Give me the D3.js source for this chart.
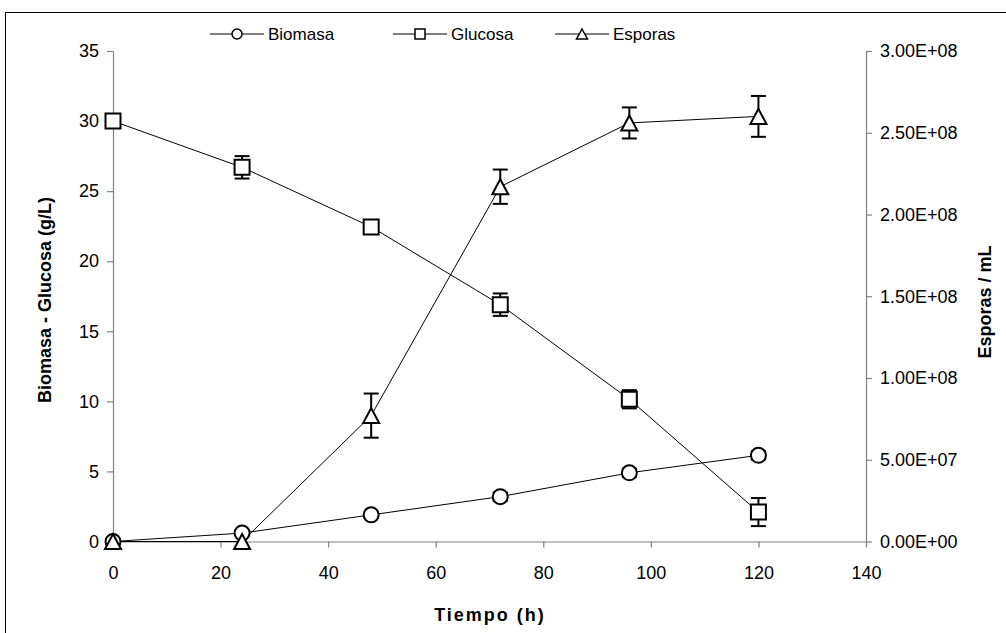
<!DOCTYPE html>
<html>
<head>
<meta charset="utf-8">
<script src="https://cdn.jsdelivr.net/npm/d3@7"></script>
<style>
  html, body { margin: 0; padding: 0; background: #fff; }
  svg { display: block; font-family: "Liberation Sans", Arial, sans-serif; }
</style>
</head>
<body>
<svg id="chart" width="1006" height="633"></svg>
<script>
// ---- data ----
const time = [0, 24, 48, 72, 96, 120];
const biomasa = [0, 0.6, 1.9, 3.2, 4.9, 6.15];
const biomasaErr = [0.1, 0.2, 0.2, 0.3, 0.3, 0.3];
const glucosa = [30, 26.7, 22.45, 16.9, 10.15, 2.1];
const glucosaErr = [0.1, 0.8, 0.2, 0.8, 0.65, 1.0];
const esporas = [0, 0, 7.7e7, 2.17e8, 2.56e8, 2.6e8];
const esporasErr = [0, 0, 1.35e7, 1.05e7, 0.95e7, 1.25e7];
const xTicks = [0, 20, 40, 60, 80, 100, 120, 140];
const yLeftTicks = [0, 5, 10, 15, 20, 25, 30, 35];
const yRightTicks = [0, 5e7, 1e8, 1.5e8, 2e8, 2.5e8, 3e8];
const seriesNames = ["Biomasa", "Glucosa", "Esporas"];

const svg = d3.select("#chart");
const x = d3.scaleLinear().domain([0, 140]).range([113, 866]);
const yL = d3.scaleLinear().domain([0, 35]).range([541.5, 51]);
const yR = d3.scaleLinear().domain([0, 3e8]).range([541.5, 51]);

// frame
svg.append("rect").attr("x", 5.5).attr("y", 12.5).attr("width", 1010).attr("height", 640)
  .attr("fill", "none").attr("stroke", "#000").attr("stroke-width", 1);

const axisColor = "#808080";
const fmtE = v => {
  const s = v.toExponential(2).toUpperCase(); // e.g. 3.00E+8
  return s.replace(/E([+-])(\d)$/, "E$10$2");
};

// axes
const gx = svg.append("g").attr("transform", `translate(0,${yL(0)})`)
  .call(d3.axisBottom(x).tickValues(xTicks).tickSize(6).tickSizeOuter(0).tickPadding(19));
const gl = svg.append("g").attr("transform", `translate(${x(0)},0)`)
  .call(d3.axisLeft(yL).tickValues(yLeftTicks).tickSize(6).tickSizeOuter(0).tickPadding(8));
const gr = svg.append("g").attr("transform", `translate(${x(140)},0)`)
  .call(d3.axisRight(yR).tickValues(yRightTicks).tickFormat(fmtE).tickSize(6).tickSizeOuter(0).tickPadding(8));
[gx, gl, gr].forEach(g => {
  g.selectAll("path, line").attr("stroke", axisColor).attr("stroke-width", 1.2);
  g.selectAll("text").attr("fill", "#000").style("font-size", "18px")
    .style("font-family", "'Liberation Sans', Arial, sans-serif");
});

// titles
svg.append("text").attr("x", 490).attr("y", 621).attr("text-anchor", "middle")
  .style("font-size", "18px").style("font-weight", "bold").style("letter-spacing", "2px")
  .text("Tiempo (h)");
svg.append("text").attr("transform", "translate(51,300) rotate(-90)").attr("text-anchor", "middle")
  .style("font-size", "18px").style("font-weight", "bold")
  .text("Biomasa - Glucosa (g/L)");
svg.append("text").attr("transform", "translate(991,302) rotate(-90)").attr("text-anchor", "middle")
  .style("font-size", "18px").style("font-weight", "bold")
  .text("Esporas / mL");

// series data
const series = [
  { name: seriesNames[0], vals: biomasa, errs: biomasaErr, y: yL, shape: "circle" },
  { name: seriesNames[1], vals: glucosa, errs: glucosaErr, y: yL, shape: "square" },
  { name: seriesNames[2], vals: esporas, errs: esporasErr, y: yR, shape: "triangle" }
];

function markerPath(shape, s) {
  if (shape === "circle") return d3.symbol().type(d3.symbolCircle).size(Math.PI * s * s / 4)();
  if (shape === "square") return `M${-s/2},${-s/2}H${s/2}V${s/2}H${-s/2}Z`;
  return `M0,${-s/2}L${s/2 + 0.5},${s/2}L${-s/2 - 0.5},${s/2}Z`;
}

const line = d3.line();
series.forEach(sr => {
  const pts = time.map((t, i) => [x(t), sr.y(sr.vals[i])]);
  svg.append("path").attr("d", line(pts)).attr("fill", "none")
    .attr("stroke", "#000").attr("stroke-width", 1);
});
// error bars
series.forEach(sr => {
  const g = svg.append("g").attr("stroke", "#000").attr("stroke-width", 2);
  time.forEach((t, i) => {
    const e = sr.errs[i];
    if (!e) return;
    const cx = x(t), y1 = sr.y(sr.vals[i] + e), y0 = sr.y(Math.max(0, sr.vals[i] - e));
    g.append("line").attr("x1", cx).attr("x2", cx).attr("y1", y1).attr("y2", y0);
    g.append("line").attr("x1", cx - 7.5).attr("x2", cx + 7.5).attr("y1", y1).attr("y2", y1);
    g.append("line").attr("x1", cx - 7.5).attr("x2", cx + 7.5).attr("y1", y0).attr("y2", y0);
  });
});
// markers
series.forEach(sr => {
  time.forEach((t, i) => {
    svg.append("path").attr("d", markerPath(sr.shape, 15))
      .attr("transform", `translate(${x(t)},${sr.y(sr.vals[i])})`)
      .attr("fill", "#fff").attr("stroke", "#000").attr("stroke-width", 2);
  });
});

// legend
const legendX = [210, 393, 555];
series.forEach((sr, i) => {
  const g = svg.append("g").attr("transform", `translate(${legendX[i]},34)`);
  g.append("line").attr("x1", 0).attr("x2", 54).attr("y1", 0).attr("y2", 0)
    .attr("stroke", "#000").attr("stroke-width", 1);
  g.append("path").attr("d", markerPath(sr.shape, 10)).attr("transform", "translate(27,0)")
    .attr("fill", "#fff").attr("stroke", "#000").attr("stroke-width", 1.5);
  g.append("text").attr("x", 58).attr("y", 6).style("font-size", "17px").text(sr.name);
});
</script>
</body>
</html>
